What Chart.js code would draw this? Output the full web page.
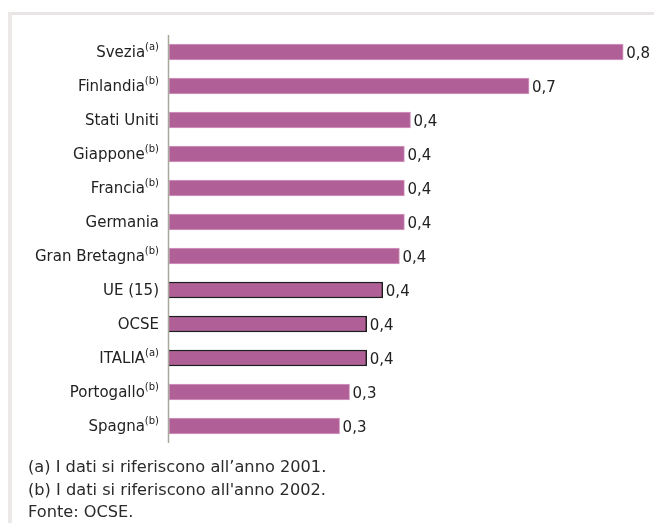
<!DOCTYPE html>
<html>
<head>
<meta charset="utf-8">
<script src="https://cdn.jsdelivr.net/npm/chart.js@4/dist/chart.umd.min.js"></script>
<style>
  html, body { margin:0; padding:0; background:#fff; width:654px; height:523px; overflow:hidden; }
  #frameTop { position:absolute; left:8px; top:12px; width:646px; height:3px; background:#e9e5e5; }
  #frameLeft { position:absolute; left:8px; top:12px; width:4px; height:511px; background:#ece8e8; }
  #wrap { position:absolute; left:0; top:0; width:654px; height:523px; }
  #notes { position:absolute; left:28px; top:456px; font-family:"DejaVu Sans", sans-serif; font-size:16.2px; line-height:22.5px; color:#2a2a2a; }
</style>
</head>
<body>
<div id="frameTop"></div>
<div id="frameLeft"></div>
<div id="wrap"><canvas id="c" width="654" height="523"></canvas></div>
<div id="notes">
  <div>(a) I dati si riferiscono all’anno 2001.</div>
  <div>(b) I dati si riferiscono all'anno 2002.</div>
  <div>Fonte: OCSE.</div>
</div>
<script>
const categories = ["Svezia", "Finlandia", "Stati Uniti", "Giappone", "Francia", "Germania",
  "Gran Bretagna", "UE (15)", "OCSE", "ITALIA", "Portogallo", "Spagna"];
const notes = ["(a)", "(b)", "", "(b)", "(b)", "", "(b)", "", "", "(a)", "(b)", "(b)"];
const values = [0.82, 0.65, 0.436, 0.425, 0.425, 0.425, 0.416, 0.386, 0.357, 0.357, 0.326, 0.308];
const highlighted = [false, false, false, false, false, false, false, true, true, true, false, false];

const barFill = "#b05f97";
const fmt = v => v.toFixed(1).replace(".", ",");

const labelPlugin = {
  id: "labels",
  afterDatasetsDraw(chart) {
    const ctx = chart.ctx;
    const area = chart.chartArea;
    const y = chart.scales.y;
    const meta = chart.getDatasetMeta(0);
    ctx.save();
    ctx.strokeStyle = "#a8a89c";
    ctx.lineWidth = 1.5;
    ctx.beginPath();
    ctx.moveTo(area.left - 0.5, area.top);
    ctx.lineTo(area.left - 0.5, area.bottom);
    ctx.stroke();
    ctx.textBaseline = "middle";
    categories.forEach((name, i) => {
      const py = y.getPixelForValue(i);
      const right = area.left - 10;
      ctx.font = "10px 'DejaVu Sans', sans-serif";
      const sw = notes[i] ? ctx.measureText(notes[i]).width : 0;
      ctx.fillStyle = "#222";
      if (notes[i]) {
        ctx.textAlign = "right";
        ctx.fillText(notes[i], right, py - 5);
      }
      ctx.font = "15px 'DejaVu Sans', sans-serif";
      ctx.textAlign = "right";
      ctx.fillText(name, right - sw, py + 1);
      const bar = meta.data[i];
      ctx.font = "15px 'DejaVu Sans', sans-serif";
      ctx.textAlign = "left";
      ctx.fillText(fmt(values[i]), bar.x + 3, py + 2);
    });
    ctx.restore();
  }
};

new Chart(document.getElementById("c"), {
  type: "bar",
  data: {
    labels: categories,
    datasets: [{
      data: values,
      backgroundColor: barFill,
      borderColor: highlighted.map(h => h ? "#1e1e1e" : "#d59bc3"),
      borderWidth: highlighted.map(h => h ? 1.5 : 1),
      borderSkipped: highlighted.map(h => h ? "start" : false),
      barThickness: 16
    }]
  },
  options: {
    indexAxis: "y",
    responsive: false,
    animation: false,
    devicePixelRatio: 1,
    layout: { padding: { left: 169, top: 35, right: 14, bottom: 80 } },
    plugins: { legend: { display: false }, tooltip: { enabled: false } },
    scales: {
      x: { display: false, min: 0, max: 0.8503 },
      y: { display: false }
    }
  },
  plugins: [labelPlugin]
});
</script>
</body>
</html>
